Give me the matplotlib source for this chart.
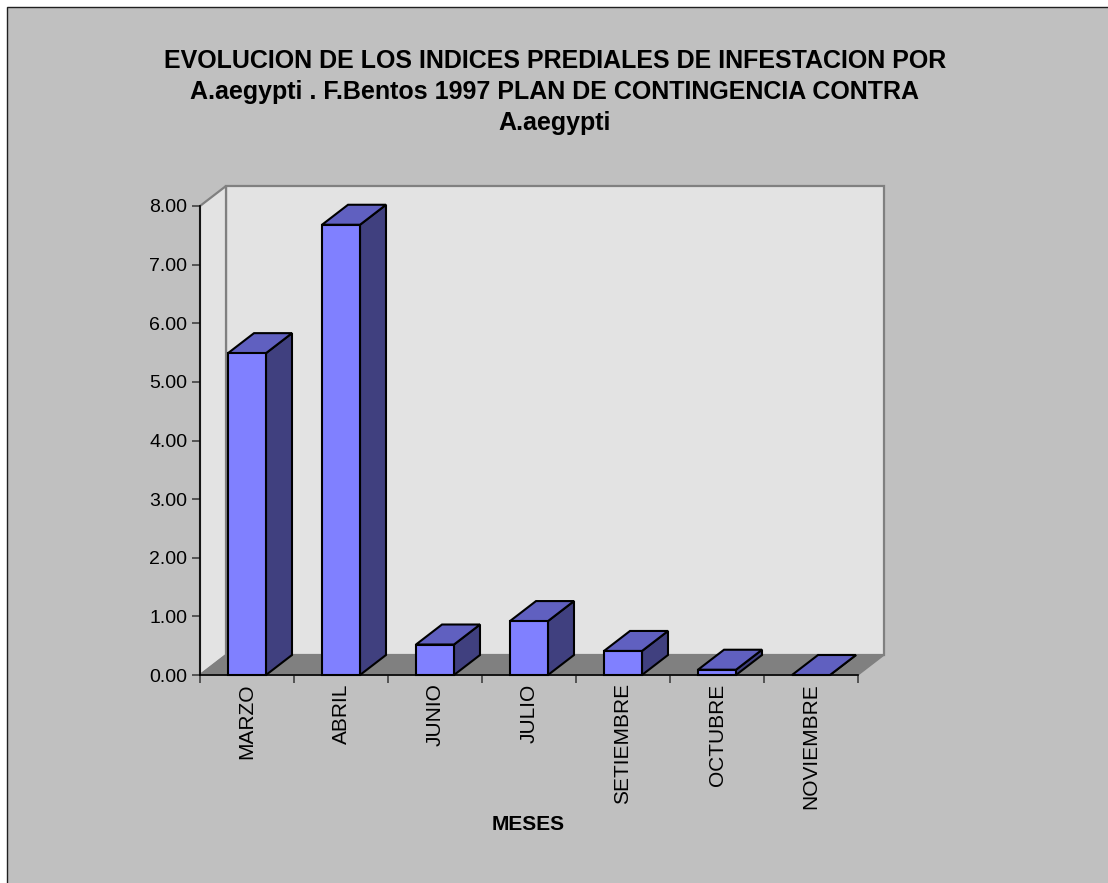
import matplotlib
matplotlib.use("Agg")
import matplotlib.pyplot as plt
from matplotlib.patches import Polygon, Rectangle

plt.rcParams['font.family'] = ['Liberation Sans', 'DejaVu Sans']

# data
meses = ["MARZO", "ABRIL", "JUNIO", "JULIO", "SETIEMBRE", "OCTUBRE", "NOVIEMBRE"]
indices = [5.49, 7.68, 0.52, 0.92, 0.41, 0.09, 0.0]
y_ticks = [0, 1, 2, 3, 4, 5, 6, 7, 8]
titulo = ("EVOLUCION DE LOS INDICES PREDIALES DE INFESTACION POR\n"
          "A.aegypti . F.Bentos 1997 PLAN DE CONTINGENCIA CONTRA\n"
          "A.aegypti")
eje_x = "MESES"

W, H, DPI = 1108, 883, 100
BG = "#C0C0C0"
WALL = "#E3E3E3"
FLOOR = "#808080"
EDGE_GRAY = "#808080"
FRONT = "#8080FF"
TOP = "#6060C0"
SIDE = "#40407F"

fig = plt.figure(figsize=(W / DPI, H / DPI), dpi=DPI, facecolor="white")

# chart area, border only visible on top/left
fig.patches.append(Rectangle((7 / W, -0.05), 1.1, 1.05 - 7 / H, transform=fig.transFigure,
                             facecolor=BG, edgecolor="#202020", linewidth=1.0,
                             zorder=-10))

# front plane of the plot area in pixels
left, right, top, bottom = 200, 858, 206, 675
ax = fig.add_axes([left / W, (H - bottom) / H, (right - left) / W, (bottom - top) / H])
ax.set_facecolor("none")
n = len(meses)
ax.set_xlim(0, n)
ax.set_ylim(0, 8)

# depth offset (pixels) converted to data units
depth_px = (26, 20)
ddx = depth_px[0] / ((right - left) / n)
ddy = depth_px[1] / ((bottom - top) / 8)
ymax = 8

# walls and floor
ax.add_patch(Polygon([(ddx, ddy), (n + ddx, ddy), (n + ddx, ymax + ddy), (ddx, ymax + ddy)],
                     closed=True, facecolor=WALL, edgecolor=EDGE_GRAY, linewidth=1.6,
                     clip_on=False, zorder=1))
ax.add_patch(Polygon([(0, 0), (ddx, ddy), (ddx, ymax + ddy), (0, ymax)],
                     closed=True, facecolor=WALL, edgecolor=EDGE_GRAY, linewidth=1.6,
                     clip_on=False, zorder=1))
ax.add_patch(Polygon([(0, 0), (n, 0), (n + ddx, ddy), (ddx, ddy)],
                     closed=True, facecolor=FLOOR, edgecolor=EDGE_GRAY, linewidth=1.0,
                     clip_on=False, zorder=2))

# 3D columns
hw = 0.202
bar_kw = dict(edgecolor="black", linewidth=1.5, joinstyle="miter", clip_on=False, zorder=5)
for i, v in enumerate(indices):
    c = i + 0.5
    x0, x1 = c - hw, c + hw
    ax.add_patch(Polygon([(x1, 0), (x1 + ddx, ddy), (x1 + ddx, v + ddy), (x1, v)],
                         closed=True, facecolor=SIDE, **bar_kw))
    ax.add_patch(Polygon([(x0, v), (x1, v), (x1 + ddx, v + ddy), (x0 + ddx, v + ddy)],
                         closed=True, facecolor=TOP, **bar_kw))
    if v > 0:
        ax.add_patch(Rectangle((x0, 0), 2 * hw, v, facecolor=FRONT, **bar_kw))

# axes lines and ticks
for s in ("top", "right"):
    ax.spines[s].set_visible(False)
for s in ("left", "bottom"):
    ax.spines[s].set_color("#000000")
    ax.spines[s].set_linewidth(1.2)
    ax.spines[s].set_zorder(6)

ax.set_yticks(y_ticks)
ax.set_yticklabels([f"{t:.2f}" for t in y_ticks])
ax.tick_params(axis="y", direction="out", length=6, width=1.2, color="#404040",
               labelsize=14, pad=3)

ax.set_xticks(range(n + 1))
ax.set_xticklabels([])
ax.set_xticks([i + 0.5 for i in range(n)], minor=True)
ax.set_xticklabels(meses, minor=True, rotation=90, va="top", ha="center", fontsize=15)
ax.tick_params(axis="x", which="major", direction="out", length=6, width=1.2, color="#404040")
ax.tick_params(axis="x", which="minor", length=0, pad=6)

fig.text(555 / W, 1 - 92 / H, titulo, ha="center", va="center", fontsize=18,
         fontweight="bold", linespacing=1.37)
fig.text(528 / W, 1 - 825 / H, eje_x, ha="center", va="center", fontsize=15,
         fontweight="bold")

fig.savefig("out.png", dpi=DPI, facecolor="white")
